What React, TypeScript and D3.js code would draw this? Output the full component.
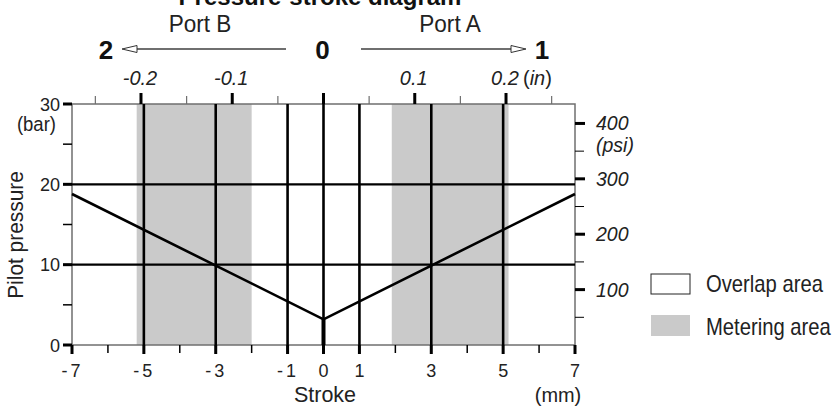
import React from "react";
import * as d3 from "d3";

// ---- data ----
const strokeMajorTicks = [-7, -5, -3, -1, 0, 1, 3, 5, 7];
const strokeMinorTicks = [-6, -4, -2, 2, 4, 6];
const pressureMajorTicks = [0, 10, 20, 30];
const pressureMinorTicks = [5, 15, 25];
const psiMajorTicks = [100, 200, 300, 400];
const psiMinorTicks = [50, 150, 250, 350];
const inchMajorTicks = [-0.2, -0.1, 0, 0.1, 0.2];
const inchMinorTicks = [-0.25, -0.15, -0.05, 0.05, 0.15, 0.25];
const inchLabels = ["-0.2", "-0.1", "0.1", "0.2"];
const inchLabelValues = [-0.2, -0.1, 0.1, 0.2];
const gridStroke = [-5, -3, -1, 0, 1, 3, 5];
const gridPressure = [10, 20];
const meteringStart = [-5.2, 1.9];
const meteringEnd = [-2.0, 5.15];
const curveStroke = [-7, 0, 7];
const curvePressure = [18.8, 3.2, 18.8];

const FONT = "'Liberation Sans', Arial, Helvetica, sans-serif";
const PSI_PER_BAR = 14.5038;
const MM_PER_IN = 25.4;

type TProps = {
  x: number;
  y: number;
  size: number;
  sx?: number;
  anchor?: "start" | "middle" | "end";
  italic?: boolean;
  bold?: boolean;
  children: React.ReactNode;
};

function T({ x, y, size, sx = 1, anchor = "start", italic, bold, children }: TProps) {
  return (
    <text
      transform={`translate(${x},${y}) scale(${sx},1)`}
      textAnchor={anchor}
      fontSize={size}
      fontStyle={italic ? "italic" : "normal"}
      fontWeight={bold ? "bold" : "normal"}
      fill={bold ? "#111" : "#222"}
    >
      {children}
    </text>
  );
}

export default function App() {
  const W = 834, H = 406;
  const x = d3.scaleLinear().domain([-7, 7]).range([72, 575]);
  const y = d3.scaleLinear().domain([0, 30]).range([345, 104]);
  const [x0, x1] = x.range();
  const [yb, yt] = y.range();

  const line = d3
    .line<number>()
    .x((_, i) => x(curveStroke[i]))
    .y((d) => y(d));

  const grey = "#cacaca";
  const axisGrey = "#6f6f6f";
  const arrowY = 49;

  return (
    <svg
      width={W}
      height={H}
      style={{ position: "absolute", left: 0, top: 0, background: "#fff" }}
      fontFamily={FONT}
    >
      {/* title (partially cut off at top, as in the source) */}
      <T x={320} y={5} size={24} anchor="middle" bold>Pressure-stroke diagram</T>

      {/* port labels */}
      <T x={200} y={32} size={24} sx={0.94} anchor="middle">Port B</T>
      <T x={450} y={32} size={24} sx={0.94} anchor="middle">Port A</T>

      {/* position numbers and arrows */}
      <T x={106} y={59} size={26} anchor="middle" bold>2</T>
      <T x={x(0) - 1} y={59} size={26} anchor="middle" bold>0</T>
      <T x={542} y={59} size={26} anchor="middle" bold>1</T>
      <line x1={136} x2={286} y1={arrowY} y2={arrowY} stroke={axisGrey} strokeWidth={2} />
      <path d={`M122,${arrowY} L137,${arrowY - 3.5} L137,${arrowY + 3.5} Z`} fill="#fff" stroke="#333" strokeWidth={1} />
      <line x1={361} x2={511} y1={arrowY} y2={arrowY} stroke={axisGrey} strokeWidth={2} />
      <path d={`M526,${arrowY} L511,${arrowY - 3.5} L511,${arrowY + 3.5} Z`} fill="#fff" stroke="#333" strokeWidth={1} />

      {/* metering bands */}
      {meteringStart.map((s, i) => (
        <rect key={"band" + i} x={x(s)} y={yt} width={x(meteringEnd[i]) - x(s)} height={yb - yt} fill={grey} />
      ))}

      {/* plot border */}
      <rect x={x0} y={yt} width={x1 - x0} height={yb - yt} fill="none" stroke={axisGrey} strokeWidth={1.5} />

      {/* grid */}
      {gridStroke.map((v) => (
        <line key={"gv" + v} x1={x(v)} x2={x(v)} y1={yt} y2={yb} stroke="#000" strokeWidth={2.6} />
      ))}
      {gridPressure.map((v) => (
        <line key={"gh" + v} x1={x0} x2={x1} y1={y(v)} y2={y(v)} stroke="#000" strokeWidth={2.2} />
      ))}
      <line x1={x(0)} x2={x(0)} y1={y(curvePressure[1])} y2={yb} stroke="#000" strokeWidth={4} />

      {/* pressure curve */}
      <path d={line(curvePressure) || ""} fill="none" stroke="#000" strokeWidth={2.6} />

      {/* top axis (inches) */}
      {inchMinorTicks.map((v) => (
        <line key={"im" + v} x1={x(v * MM_PER_IN)} x2={x(v * MM_PER_IN)} y1={yt} y2={yt - 8} stroke={axisGrey} strokeWidth={1.2} />
      ))}
      {inchMajorTicks.map((v) => (
        <line key={"iM" + v} x1={x(v * MM_PER_IN)} x2={x(v * MM_PER_IN)} y1={yt} y2={yt - 11} stroke="#000" strokeWidth={3} />
      ))}
      {inchLabels.map((t, i) => (
        <T key={"il" + t} x={x(inchLabelValues[i] * MM_PER_IN) - 1} y={85} size={20} anchor="middle" italic>
          {t}
        </T>
      ))}
      <text x={523} y={85} fontSize={20} fill="#222">
        (<tspan fontStyle="italic">in</tspan>)
      </text>

      {/* left axis (bar) */}
      {pressureMinorTicks.map((v) => (
        <line key={"pm" + v} x1={x0} x2={x0 - 9} y1={y(v)} y2={y(v)} stroke="#000" strokeWidth={1.5} />
      ))}
      {pressureMajorTicks.map((v) => (
        <line key={"pM" + v} x1={x0} x2={x0 - 9} y1={y(v)} y2={y(v)} stroke="#000" strokeWidth={3} />
      ))}
      {pressureMajorTicks.map((v) => (
        <T key={"pl" + v} x={60} y={y(v) + 6.5} size={19} sx={0.95} anchor="end">
          {v}
        </T>
      ))}
      <T x={56} y={131} size={19.5} sx={0.95} anchor="end">(bar)</T>
      <text transform={`translate(23,235) rotate(-90) scale(0.95,1)`} textAnchor="middle" fontSize={22} fill="#222">
        Pilot pressure
      </text>

      {/* right axis (psi) */}
      {psiMinorTicks.map((v) => (
        <line key={"sm" + v} x1={x1} x2={x1 + 9} y1={y(v / PSI_PER_BAR)} y2={y(v / PSI_PER_BAR)} stroke="#000" strokeWidth={1} />
      ))}
      {psiMajorTicks.map((v) => (
        <line key={"sM" + v} x1={x1} x2={x1 + 10} y1={y(v / PSI_PER_BAR)} y2={y(v / PSI_PER_BAR)} stroke="#000" strokeWidth={3} />
      ))}
      {psiMajorTicks.map((v) => (
        <T key={"sl" + v} x={596} y={y(v / PSI_PER_BAR) + 7} size={19.5} italic>
          {v}
        </T>
      ))}
      <T x={596} y={152} size={19.5} italic>(psi)</T>

      {/* bottom axis (mm) */}
      {strokeMinorTicks.map((v) => (
        <line key={"xm" + v} x1={x(v)} x2={x(v)} y1={yb} y2={yb + 8} stroke="#000" strokeWidth={1.5} />
      ))}
      {strokeMajorTicks.map((v) => (
        <line key={"xM" + v} x1={x(v)} x2={x(v)} y1={yb} y2={yb + 9} stroke="#000" strokeWidth={3} />
      ))}
      {strokeMajorTicks.map((v) =>
        v < 0 ? (
          <text key={"xl" + v} x={x(v) - 1} y={377} textAnchor="middle" fontSize={18} fill="#222">
            -<tspan dx={3}>{Math.abs(v)}</tspan>
          </text>
        ) : (
          <text key={"xl" + v} x={x(v)} y={377} textAnchor="middle" fontSize={18} fill="#222">
            {v}
          </text>
        )
      )}
      <T x={325} y={402} size={21.5} anchor="middle">Stroke</T>
      <T x={558} y={402} size={21} sx={0.95} anchor="middle">(mm)</T>

      {/* legend */}
      <rect x={651} y={274} width={39} height={20} fill="#fff" stroke="#222" strokeWidth={1} />
      <T x={706} y={292} size={23} sx={0.88}>Overlap area</T>
      <rect x={651} y={315} width={39} height={21} fill={grey} />
      <T x={706} y={335} size={23} sx={0.88}>Metering area</T>
    </svg>
  );
}
